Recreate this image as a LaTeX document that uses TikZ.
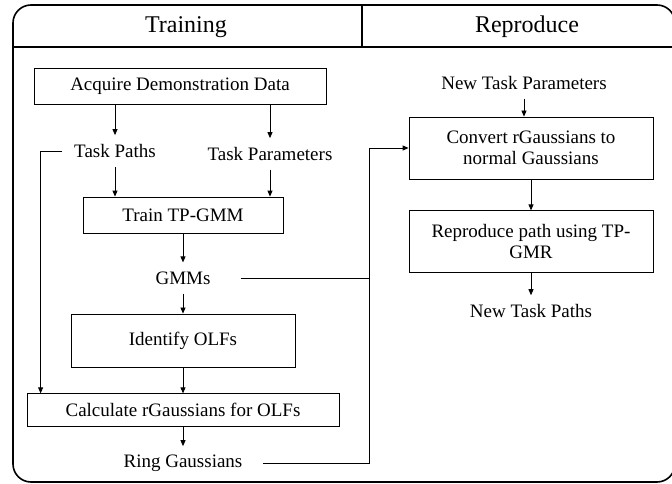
\documentclass[tikz,border=0pt]{standalone}
\usepackage{fontspec}
\setmainfont{Liberation Serif}
\usetikzlibrary{arrows.meta, positioning}
\tikzset{
  stepbox/.style={draw, line width=0.8pt, align=center, inner sep=2pt,
                  font=\fontsize{19}{21}\selectfont},
  lbl/.style={inner xsep=0pt, inner ysep=9pt, font=\fontsize{19}{21}\selectfont},
  hdr/.style={font=\fontsize{24}{28}\selectfont},
  arr/.style={-{Triangle[length=6pt,width=5pt]}, line width=0.8pt},
  wire/.style={line width=0.8pt},
}
\begin{document}
\begin{tikzpicture}[x=1pt, y=-1pt]
  \useasboundingbox (0,0) rectangle (672,484);
  \draw[line width=1.6pt, rounded corners=18pt] (13,5) rectangle (675,482);
  \draw[line width=1.4pt] (13,47) -- (672,47);
  \draw[line width=1.2pt] (362,5) -- (362,47);
  \node[hdr] (htrain) at (186,27) {Training};
  \node[hdr] (hrepro) at (527,27) {Reproduce};
  \node[stepbox, minimum width=292pt, minimum height=36pt] (acq) at (180,86) {Acquire Demonstration Data};
  \node[lbl] (tpaths) at (115,151) {Task Paths};
  \node[lbl] (tparams) at (270,154) {Task Parameters};
  \node[stepbox, minimum width=200pt, minimum height=36pt] (train) at (183,215) {Train TP-GMM};
  \node[lbl, below=29pt of train] (gmms) {GMMs};
  \node[stepbox, minimum width=224pt, minimum height=53pt, below=20pt of gmms] (olf) {Identify OLFs};
  \node[stepbox, minimum width=312pt, minimum height=33pt, below=26pt of olf] (calc) {Calculate rGaussians for OLFs};
  \node[lbl, below=19pt of calc] (ring) {Ring Gaussians};
  \node[lbl] (ntp) at (524,83) {New Task Parameters};
  \node[stepbox, minimum width=244pt, minimum height=62pt] (conv) at (531,148) {Convert rGaussians to\\normal Gaussians};
  \node[stepbox, minimum width=244pt, minimum height=62pt, below=31pt of conv] (repro) {Reproduce path using TP-\\GMR};
  \node[lbl, below=22pt of repro] (ntpaths) {New Task Paths};
  \coordinate (bus) at (369,148);
  \coordinate (tin) at ([xshift=14pt]calc.north west);
  \draw[arr] (acq.south -| tpaths) -- (tpaths.north);
  \draw[arr] (acq.south -| tparams) -- (tparams.north);
  \draw[arr] (tpaths.south) -- (tpaths.south |- train.north);
  \draw[arr] (tparams.south) -- (tparams.south |- train.north);
  \draw[arr] (train.south) -- (gmms.north);
  \draw[arr] (gmms.south) -- (olf.north);
  \draw[arr] (olf.south) -- (calc.north);
  \draw[arr] (calc.south) -- (ring.north);
  \draw[arr, shorten <=12pt] (tpaths.west) -| (tin);
  \draw[wire, shorten <=30pt] (gmms.east) -- (gmms.east -| bus);
  \draw[arr, shorten <=20pt] (ring.east) -- (ring.east -| bus) |- (conv.west);
  \draw[arr] (ntp.south) -- (ntp.south |- conv.north);
  \draw[arr] (conv.south) -- (repro.north);
  \draw[arr] (repro.south) -- (ntpaths.north);
\end{tikzpicture}
\end{document}
